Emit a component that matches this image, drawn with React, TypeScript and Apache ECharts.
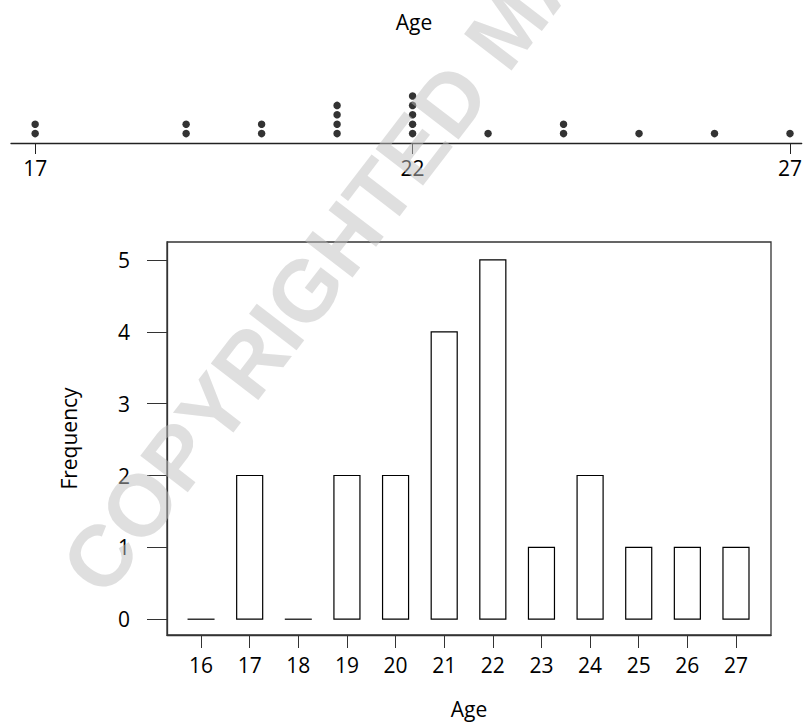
import React, { useEffect, useRef } from "react";
import * as echarts from "echarts";

const ages = [16, 17, 18, 19, 20, 21, 22, 23, 24, 25, 26, 27];
const counts = [0, 2, 0, 2, 2, 4, 5, 1, 2, 1, 1, 1];
const dotTicks = [17, 22, 27];
const freqTicks = [0, 1, 2, 3, 4, 5];
const watermark = "COPYRIGHTED MATERIAL";

const FONT = "Open Sans";

export default function App() {
  const ref = useRef<HTMLDivElement>(null);
  useEffect(() => {
    if (!ref.current) return;
    const chart = echarts.init(ref.current, null, { renderer: "svg" });

    const dots: number[][] = [];
    ages.forEach((a, i) => {
      for (let k = 1; k <= counts[i]; k++) dots.push([a, k]);
    });
    const bars = ages.map((a, i) => [a, counts[i]]);

    const textStyle = { color: "#000", fontFamily: FONT, fontSize: 21 };

    const rot = (52.5 * Math.PI) / 180;

    chart.setOption({
      animation: false,
      backgroundColor: "#fff",
      grid: [
        { left: 11, right: 0, top: 49, bottom: 724 - 143 },
        {
          left: 167,
          right: 805 - 771,
          top: 242,
          bottom: 724 - 639,
          show: true,
          borderColor: "#333",
          borderWidth: 1.3,
        },
      ],
      xAxis: [
        {
          gridIndex: 0,
          type: "value",
          min: 16.68,
          max: 27.155,
          axisLine: { onZero: false, lineStyle: { color: "#222", width: 1.3 } },
          axisTick: { customValues: dotTicks, length: 11, lineStyle: { color: "#222" } },
          axisLabel: { customValues: dotTicks, margin: 14, ...textStyle },
          splitLine: { show: false },
        },
        {
          gridIndex: 1,
          type: "value",
          min: 15.3,
          max: 27.72,
          name: "Age",
          nameLocation: "middle",
          nameGap: 63,
          nameTextStyle: textStyle,
          axisLine: { onZero: false, lineStyle: { color: "#333", width: 1.3 } },
          axisTick: { customValues: ages, length: 13, lineStyle: { color: "#333" } },
          axisLabel: { customValues: ages, margin: 19, ...textStyle },
          splitLine: { show: false },
        },
      ],
      yAxis: [
        {
          gridIndex: 0,
          type: "value",
          min: 0,
          max: 10,
          show: false,
        },
        {
          gridIndex: 1,
          type: "value",
          min: -0.22,
          max: 5.25,
          name: "Frequency",
          nameLocation: "middle",
          nameGap: 88,
          nameRotate: 90,
          nameTextStyle: textStyle,
          axisLine: { show: true, onZero: false, lineStyle: { color: "#333", width: 1.3 } },
          axisTick: { customValues: freqTicks, length: 20, lineStyle: { color: "#333" } },
          axisLabel: { customValues: freqTicks, margin: 37, ...textStyle },
          splitLine: { show: false },
        },
      ],
      series: [
        {
          type: "scatter",
          xAxisIndex: 0,
          yAxisIndex: 0,
          data: dots,
          symbol: "circle",
          symbolSize: 7.5,
          itemStyle: { color: "#000" },
        },
        {
          type: "custom",
          xAxisIndex: 1,
          yAxisIndex: 1,
          data: bars,
          renderItem: (params: any, api: any) => {
            const x = api.value(0);
            const v = api.value(1);
            const p0 = api.coord([x, 0]);
            const p1 = api.coord([x, v]);
            const w = api.size([0.535, 0])[0];
            if (v === 0) {
              return {
                type: "line",
                shape: { x1: p0[0] - w / 2 - 0.5, y1: p0[1], x2: p0[0] + w / 2 + 0.5, y2: p0[1] },
                style: { stroke: "#000", lineWidth: 1.2 },
              };
            }
            return {
              type: "rect",
              shape: { x: p0[0] - w / 2, y: p1[1], width: w, height: p0[1] - p1[1] },
              style: { fill: "#fff", stroke: "#000", lineWidth: 1.2 },
            };
          },
        },
      ],
      graphic: [
        {
          type: "text",
          x: 414,
          y: 22,
          style: {
            text: "Age",
            fill: "#000",
            font: `21px "${FONT}"`,
            align: "center",
            verticalAlign: "middle",
          },
        },
        {
          type: "text",
          x: 115,
          y: 608,
          rotation: rot,
          z: 100,
          silent: true,
          style: {
            text: watermark,
            fill: "rgba(192,192,192,0.5)",
            font: `bold 87px "Liberation Sans"`,
            align: "left",
            verticalAlign: "bottom",
          },
        },
      ],
    });
    return () => chart.dispose();
  }, []);
  return (
    <div
      ref={ref}
      style={{ position: "absolute", left: 0, top: 0, width: 805, height: 724 }}
    />
  );
}
